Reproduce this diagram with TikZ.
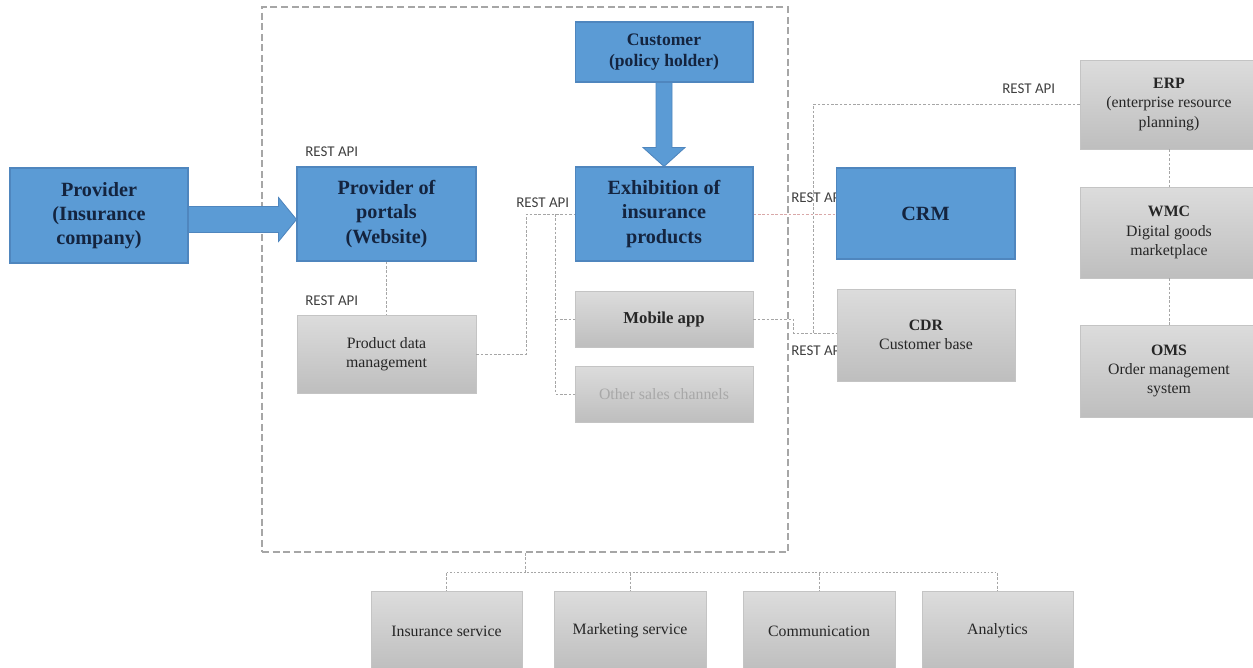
\documentclass[tikz,border=0pt]{standalone}
\usepackage{fontspec}
\setmainfont{Liberation Serif}
\newfontfamily\labfont{Carlito}
\usetikzlibrary{calc}
\definecolor{boxblue}{HTML}{5B9BD5}
\definecolor{blueedge}{HTML}{4F86BE}
\definecolor{navy}{HTML}{14243F}
\definecolor{graytop}{HTML}{DCDCDC}
\definecolor{graybot}{HTML}{BEBEBE}
\definecolor{grayedge}{HTML}{C4C4C4}
\definecolor{linegray}{HTML}{A6A6A6}
\definecolor{labgray}{HTML}{404040}
\definecolor{pinkline}{HTML}{D9A8A8}
\definecolor{fadedtext}{HTML}{A8A8A8}
\tikzset{
 bluebox/.style={draw=blueedge, fill=boxblue, line width=0.6pt, text=navy, align=center, inner sep=0pt,
   font=\fontsize{11.5}{13.7}\selectfont\bfseries},
 graybox/.style={draw=grayedge, top color=graytop, bottom color=graybot, line width=0.5pt, text=black!85,
   align=center, inner sep=0pt, font=\fontsize{9}{11}\selectfont},
 restlab/.style={font={\labfont\fontsize{8.5}{10}\selectfont}, text=labgray, inner sep=0pt, anchor=west},
 conn/.style={draw=linegray, line width=0.5pt, dash pattern=on 1.5pt off 1pt},
 platformbox/.style={draw=linegray, line width=1.1pt, dash pattern=on 4pt off 2pt, inner sep=0pt},
 blockarrow/.style={fill=boxblue, draw=blueedge, line width=0.5pt}
}
\begin{document}
\begin{tikzpicture}[x=0.02cm,y=-0.02cm]
\useasboundingbox (0,0) rectangle (1253,668);
\clip (0,0) rectangle (1253,668);

% REST API labels
\node[restlab] (l1) at (305,152) {REST API};
\node[restlab] (l2) at (305,301) {REST API};
\node[restlab] (l3) at (516,203) {REST API};
\node[restlab] (l4) at (791,198) {REST API};
\node[restlab] (l5) at (791,351) {REST API};
\node[restlab] (l6) at (1002,89) {REST API};

% platform frame
\node[platformbox, minimum width=10.52cm, minimum height=10.90cm] (platform) at (525,279.5) {};

% blue boxes
\node[bluebox, minimum width=3.56cm, minimum height=1.90cm] (provider) at (99,215.5) {Provider\\(Insurance\\company)};
\node[bluebox, minimum width=3.58cm, minimum height=1.88cm] (portals) at (386.5,214) {Provider of\\portals\\(Website)};
\node[bluebox, minimum width=3.56cm, minimum height=1.88cm] (exhib) at (664,214) {Exhibition of\\insurance\\products};
\node[bluebox, minimum width=3.56cm, minimum height=1.20cm, font=\fontsize{10}{12}\selectfont\bfseries] (customer) at (664,52) {Customer\\(policy holder)};
\node[bluebox, minimum width=3.58cm, minimum height=1.82cm] (crm) at (925.5,213.5) {CRM};

% gray boxes
\node[graybox, minimum width=3.56cm, minimum height=1.84cm] (cdr) at (926,335) {\textbf{CDR}\\Customer base};
\node[graybox, minimum width=3.56cm, minimum height=1.78cm] (erp) at (1169,104.5) {\textbf{ERP}\\(enterprise resource\\planning)};
\node[graybox, minimum width=3.56cm, minimum height=1.82cm] (wmc) at (1169,232.5) {\textbf{WMC}\\Digital goods\\marketplace};
\node[graybox, minimum width=3.56cm, minimum height=1.84cm] (oms) at (1169,371) {\textbf{OMS}\\Order management\\system};
\node[graybox, minimum width=3.58cm, minimum height=1.56cm] (pdm) at (386.5,354) {Product data\\management};
\node[graybox, minimum width=3.56cm, minimum height=1.12cm, font=\fontsize{9.5}{11}\selectfont\bfseries] (mobile) at (664,319) {Mobile app};
\node[graybox, minimum width=3.56cm, minimum height=1.12cm, text=fadedtext] (other) at (664,394) {Other sales channels};
\node[graybox, minimum width=3.02cm, minimum height=1.60cm] (ins) at (446.5,631) {Insurance service};
\node[graybox, minimum width=3.04cm, minimum height=1.60cm] (mkt) at (630,631) {Marketing service};
\node[graybox, minimum width=3.04cm, minimum height=1.60cm] (com) at (819,631) {Communication};
\node[graybox, minimum width=3.02cm, minimum height=1.60cm] (ana) at (997.5,631) {Analytics};

% block arrows
\coordinate (a1) at ($(provider.east)+(0,4)$);
\filldraw[blockarrow] ($(a1)+(0,-13)$) -- ($(a1 -| portals.west)+(-18,-13)$) -- ($(a1 -| portals.west)+(-18,-22)$)
  -- (a1 -| portals.west) -- ($(a1 -| portals.west)+(-18,22)$) -- ($(a1 -| portals.west)+(-18,13)$)
  -- ($(a1)+(0,13)$) -- cycle;
\filldraw[blockarrow] ($(customer.south)+(-8,0)$) -- ($(exhib.north)+(-8,-19)$) -- ($(exhib.north)+(-21,-19)$)
  -- (exhib.north) -- ($(exhib.north)+(21,-19)$) -- ($(exhib.north)+(8,-19)$) -- ($(customer.south)+(8,0)$) -- cycle;

% connectors
\draw[conn] (portals.south) -- (pdm.north);
\draw[conn] (pdm.east) -- ++(50,0) |- (exhib.west);
\coordinate (vbus) at ($(exhib.west)+(-19,0)$);
\draw[conn] (vbus) |- (other.west);
\draw[conn] (vbus |- mobile.west) -- (mobile.west);
\draw[conn, draw=pinkline] (exhib.east) -- (exhib.east -| crm.west);
\draw[conn] (mobile.east) -- ++(40,0) |- ($(cdr.west)+(0,-2)$);
\draw[conn] (erp.west) -| ($(cdr.west)+(-23,-2)$);
\draw[conn] (erp.south) -- (wmc.north);
\draw[conn] (wmc.south) -- (oms.north);

% bottom services
\coordinate (bus) at ($(platform.south)+(0,20)$);
\draw[conn] (platform.south) -- (bus);
\draw[conn, dash pattern=on 1pt off 1pt] (ins.north |- bus) -- (ana.north |- bus);
\foreach \n in {ins,mkt,com,ana} \draw[conn] (\n.north |- bus) -- (\n.north);
\end{tikzpicture}
\end{document}
